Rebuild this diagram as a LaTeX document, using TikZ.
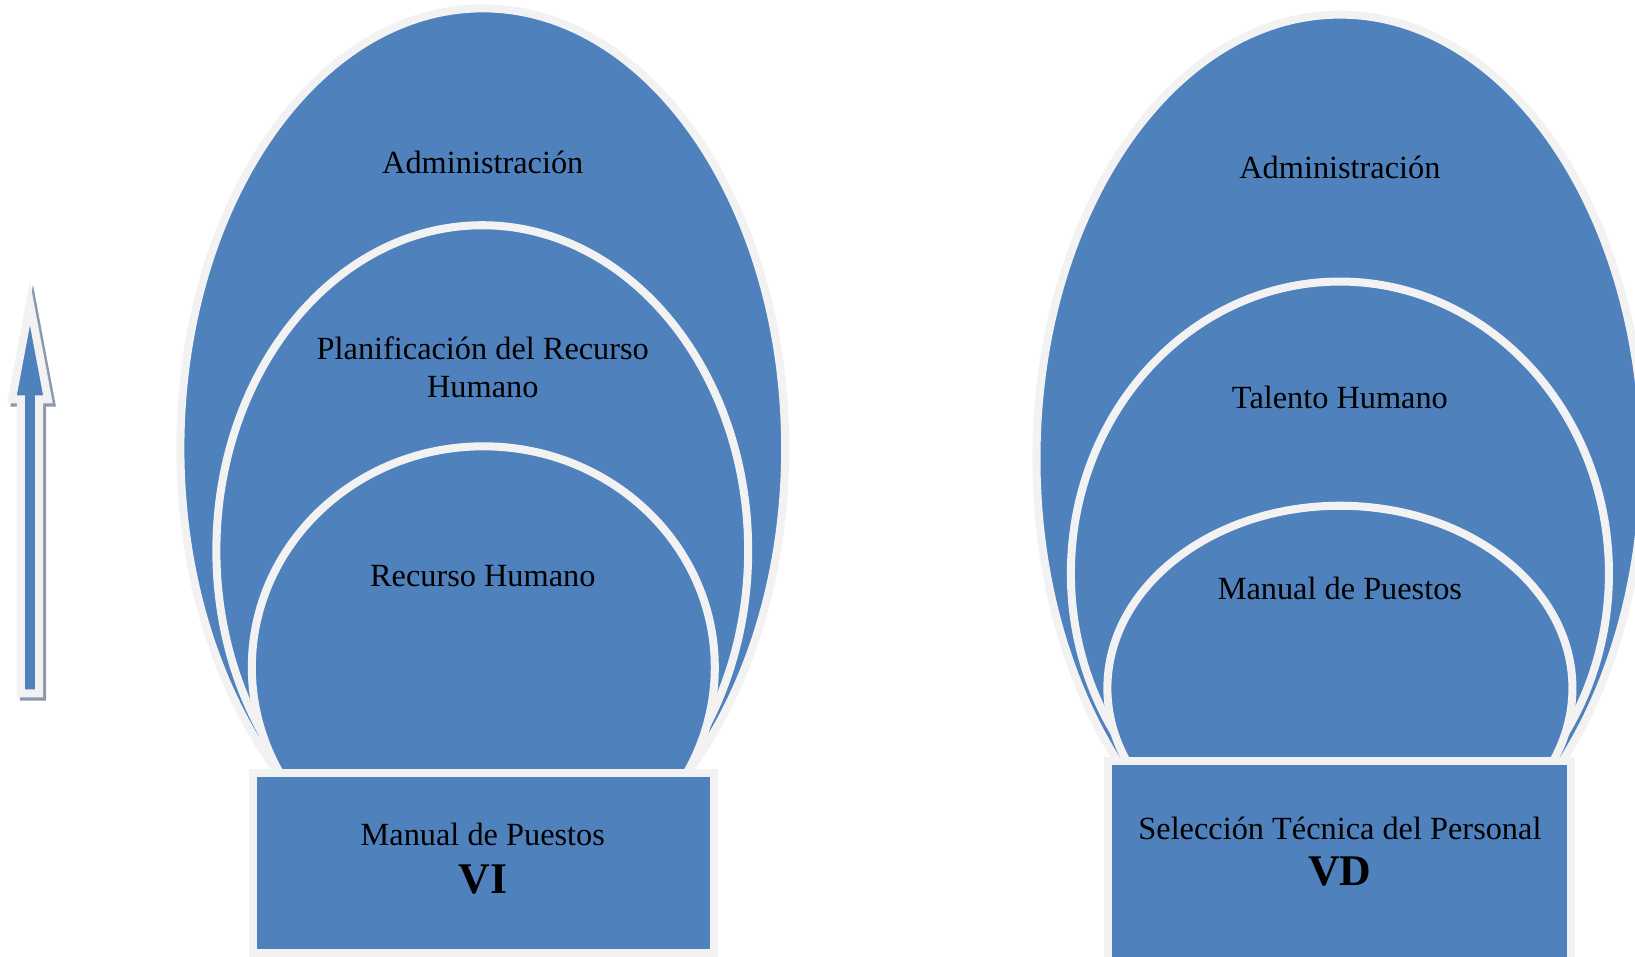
\documentclass[tikz,border=0pt]{standalone}
\usepackage{fontspec}
\setmainfont{Liberation Serif}
\definecolor{ovalblue}{RGB}{79,129,189}
\definecolor{rimgray}{RGB}{242,242,242}
\definecolor{shadegray}{RGB}{140,152,172}
\tikzset{
  oval/.style={fill=ovalblue, draw=rimgray, line width=3.85pt},
  basebox/.style={fill=ovalblue, draw=rimgray, line width=3.85pt},
  label/.style={font=\fontsize{15.5}{18}\selectfont, align=center, text=black, inner sep=0pt},
  tag/.style={font=\fontsize{21}{24}\selectfont\bfseries, text=black, inner sep=0pt},
}
\begin{document}
\begin{tikzpicture}[x=0.5pt,y=-0.5pt]
\useasboundingbox (0,0) rectangle (1568,917);
\clip (0,0) rectangle (1568,917);
\fill[white] (0,0) rectangle (1568,917);

% upward arrow with its drop shadow
\begin{scope}[line join=miter]
  \filldraw[fill=shadegray, draw=shadegray, line width=3.85pt, shift={(3,3)}]
    (28.7,291) -- (46,383) -- (37.5,383) -- (37.5,665) -- (20,665) -- (20,383) -- (11.5,383) -- cycle;
  \filldraw[fill=ovalblue, draw=rimgray, line width=3.85pt]
    (28.7,291) -- (46,383) -- (37.5,383) -- (37.5,665) -- (20,665) -- (20,383) -- (11.5,383) -- cycle;
\end{scope}

% left stack of ovals
\path[oval] (463,430) ellipse [x radius=290, y radius=422];
\fill[black, opacity=0.3] (465.5,530.5) ellipse [x radius=255, y radius=312];
\path[oval] (462.5,528) ellipse [x radius=255, y radius=312];
\path[oval] (463.5,640) ellipse [x radius=222, y radius=212];
\path[basebox] (243,741) rectangle (685,914);

\node[label] (admL) at (463,156) {Administración};
\node[label] (planL) at (463,352) {Planificación del Recurso\\Humano};
\node[label] (rhL) at (463,552) {Recurso Humano};
\node[label] (manL) at (463,800) {Manual de Puestos};
\node[tag] (vi) at (463,843) {VI};

% right stack of ovals
\path[oval] (1285,440) ellipse [x radius=291, y radius=426];
\path[oval] (1285,550) ellipse [x radius=258, y radius=280];
\path[oval] (1285,660) ellipse [x radius=223, y radius=175];
\path[basebox] (1063,730) rectangle (1507,940);

\node[label] (admR) at (1285,161) {Administración};
\node[label] (thR) at (1285,381) {Talento Humano};
\node[label] (manR) at (1285,564) {Manual de Puestos};
\node[label] (selR) at (1285,794) {Selección Técnica del Personal};
\node[tag] (vd) at (1285,836) {VD};
\end{tikzpicture}
\end{document}
